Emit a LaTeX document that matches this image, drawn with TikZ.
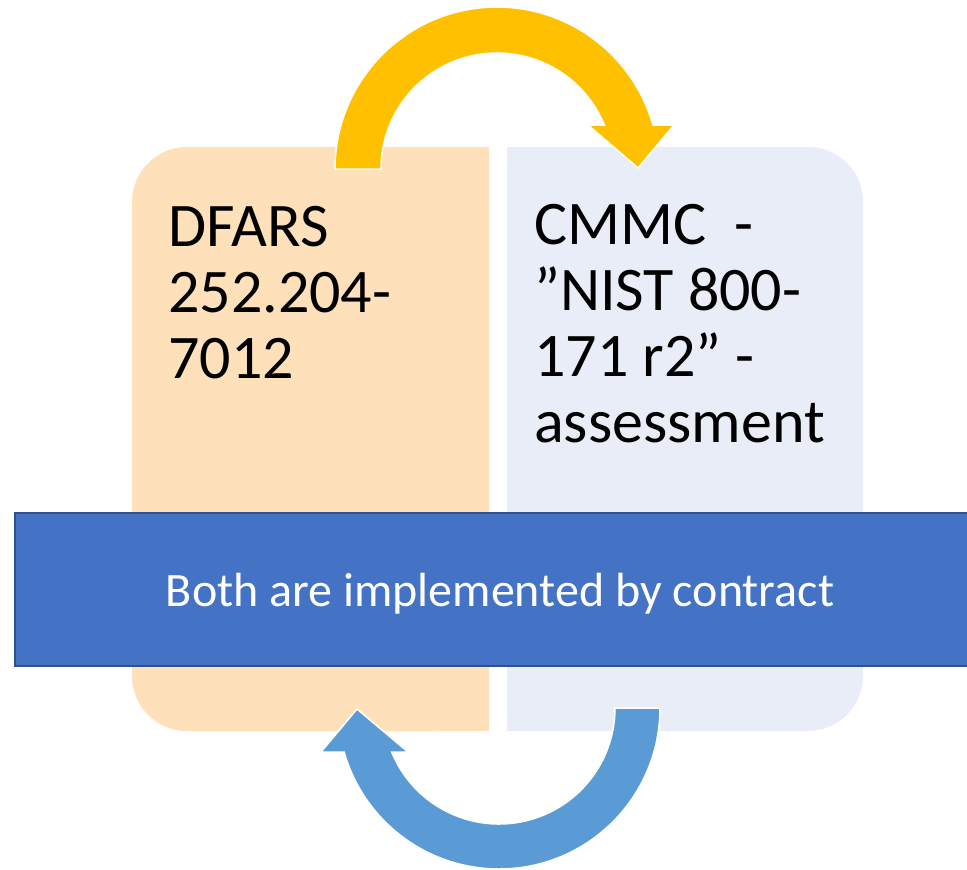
\documentclass[tikz,border=0pt]{standalone}
\usepackage{fontspec}
\setmainfont{Carlito}
\usetikzlibrary{calc}

\definecolor{peach}{HTML}{FEE0BB}
\definecolor{mist}{HTML}{E9EDF7}
\definecolor{gold}{HTML}{FFC000}
\definecolor{skyblue}{HTML}{5B9BD5}
\definecolor{bandblue}{HTML}{4472C4}
\definecolor{bandedge}{HTML}{2F528F}

\tikzset{
  panel/.style={rounded corners=55pt},
  curvedarrow/.style={draw=white, line width=1.5pt, line join=miter},
  paneltext/.style={anchor=north west, inner sep=0pt, align=left,
    font=\fontsize{62}{66}\selectfont, text=black},
  bandtext/.style={anchor=base, inner sep=0pt, text=white,
    font=\fontsize{48}{52}\selectfont}
}

\begin{document}
\begin{tikzpicture}[x=1pt, y=1pt]
  \useasboundingbox (0,0) rectangle (967,-870);
  \clip (0,0) rectangle (967,-870);

  % two panels, rounded only on their outer corners
  \fill[peach, panel] (132,-147) rectangle (489,-731);
  \fill[peach] (320,-147) rectangle (489,-731);
  \fill[mist, panel] (507,-147) rectangle (863,-731);
  \fill[mist] (507,-147) rectangle (680,-731);

  % centres of the two circular arrows
  \coordinate (ctop) at (497,-169);
  \coordinate (cbot) at (499,-708);

  % upper arrow: left panel over to right panel
  \filldraw[fill=gold, curvedarrow]
    ($(ctop)+(180:162)$) arc[start angle=180, end angle=15.76, radius=162pt]
    -- (674,-125) -- (638,-168) -- (588,-125)
    -- ($(ctop)+(22.29:116)$) arc[start angle=22.29, end angle=180, radius=116pt]
    -- cycle;

  % lower arrow: right panel back to left panel
  \filldraw[fill=skyblue, curvedarrow]
    ($(cbot)+(0:161)$) arc[start angle=0, end angle=-164.14, radius=161pt]
    -- (321,-752) -- (357,-709) -- (408,-752)
    -- ($(cbot)+(-157.71:116)$) arc[start angle=-157.71, end angle=0, radius=116pt]
    -- cycle;

  % band across both panels
  \filldraw[fill=bandblue, draw=bandedge, line width=2pt]
    (15,-513) rectangle (990,-666);

  \node[paneltext] (dfars) at (168,-206) {DFARS\\252.204-\\7012};
  \node[paneltext] (cmmc) at (534,-204)
    {CMMC\ \ -\\”NIST 800-\\171 r2” -\\assessment};
  \node[bandtext] (band) at (500,-606) {Both are implemented by contract};
\end{tikzpicture}
\end{document}
